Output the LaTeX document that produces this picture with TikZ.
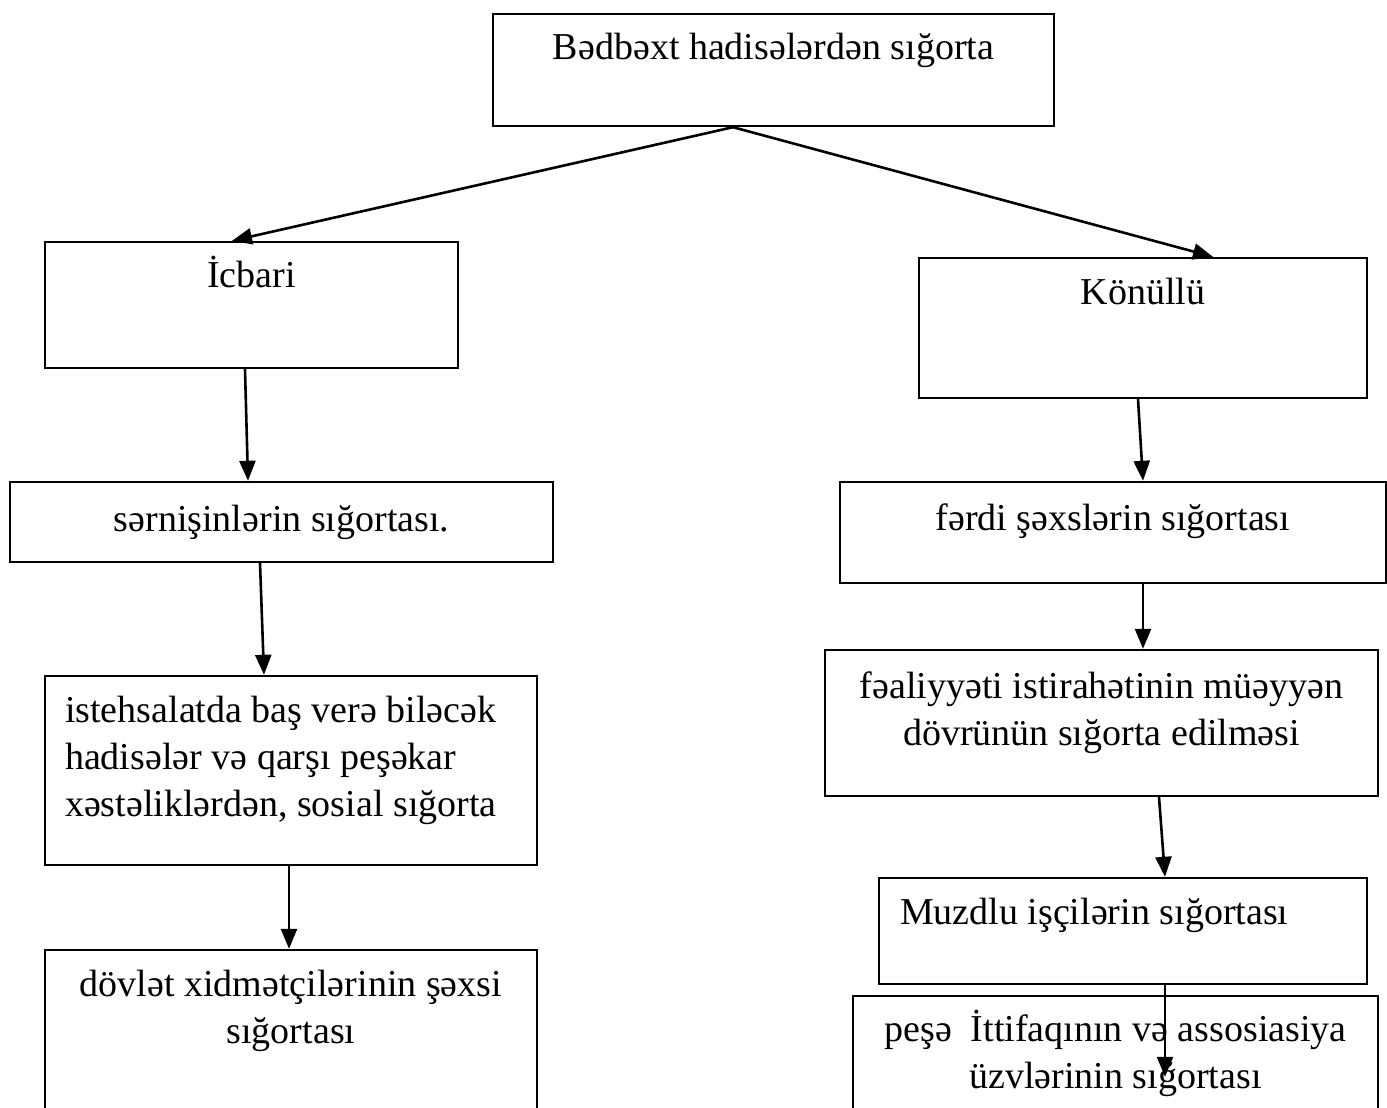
\documentclass[tikz,border=0pt]{standalone}
\usepackage{fontspec}
\setmainfont{Liberation Serif}
\usetikzlibrary{arrows.meta,positioning}

\begin{document}
\begin{tikzpicture}[x=1pt,y=-1pt,
  box/.style={draw,line width=2.4pt,inner sep=0pt},
  txt/.style={inner sep=0pt,align=center,font=\fontsize{38}{47}\selectfont,
    execute at begin node=\strut},
  arr/.style={line width=2.6pt,-{Triangle[length=20pt,width=16pt]}}]
  \useasboundingbox (0,0) rectangle (1387,1108);
  \clip (0,0) rectangle (1387,1108);
  % boxes
  \node[box,minimum width=561pt,minimum height=112pt] (top) at (773.5,70) {};
  \node[box,minimum width=413pt,minimum height=126pt] (icbari) at (251.5,305) {};
  \node[box,minimum width=448pt,minimum height=140pt] (konullu) at (1143,328) {};
  \node[box,minimum width=543pt,minimum height=80pt] (sernisin) at (281.5,522) {};
  \node[box,minimum width=546pt,minimum height=101pt] (ferdi) at (1113,532.5) {};
  \node[box,minimum width=492pt,minimum height=189pt] (istehsal) at (291,770.5) {};
  \node[box,minimum width=553pt,minimum height=146pt] (fealiyyet) at (1101.5,723) {};
  \node[box,minimum width=492pt,minimum height=180pt] (dovlet) at (291,1040) {};
  \node[box,minimum width=488pt,minimum height=106pt] (muzdlu) at (1123,931) {};
  \node[box,minimum width=525pt,minimum height=134pt] (pese) at (1115.5,1063) {};
  % texts
  \node[txt,below=14pt of top.north] (ttop) {Bədbəxt hadisələrdən sığorta};
  \node[txt,below=14pt of icbari.north] (ticbari) {İcbari};
  \node[txt,below=15pt of konullu.north] (tkonullu) {Könüllü};
  \node[txt,below=18pt of sernisin.north] (tsernisin) {sərnişinlərin sığortası.};
  \node[txt,below=17pt of ferdi.north] (tferdi) {fərdi şəxslərin sığortası};
  \node[txt,align=left,below right=21pt and 21pt of istehsal.north west] (tistehsal)
    {istehsalatda baş verə biləcək\\hadisələr və qarşı peşəkar\\xəstəliklərdən, sosial sığorta};
  \node[txt,below=23pt of fealiyyet.north] (tfealiyyet)
    {fəaliyyəti istirahətinin müəyyən\\dövrünün sığorta edilməsi};
  \node[txt,below=21pt of dovlet.north] (tdovlet) {dövlət xidmətçilərinin şəxsi\\sığortası};
  \node[txt,align=left,below right=15pt and 22pt of muzdlu.north west] (tmuzdlu)
    {Muzdlu işçilərin sığortası};
  \node[txt,below=15pt of pese.north] (tpese) {peşə\ \ İttifaqının və assosiasiya\\üzvlərinin sığortası};
  % arrows
  \draw[arr] ([xshift=-40.5pt]top.south) -- ([xshift=-19.5pt]icbari.north);
  \draw[arr] ([xshift=-40.5pt]top.south) -- ([xshift=70pt]konullu.north);
  \draw[arr] ([xshift=-6.5pt]icbari.south) -- ([xshift=-33.5pt]sernisin.north);
  \draw[arr] ([xshift=-5pt]konullu.south) -- ([xshift=30pt]ferdi.north);
  \draw[arr] ([xshift=-21.5pt]sernisin.south) -- ([xshift=-27pt]istehsal.north);
  \draw[arr] ([xshift=30pt]ferdi.south) -- ([xshift=41.5pt]fealiyyet.north);
  \draw[arr] ([xshift=-2pt]istehsal.south) -- ([xshift=-2pt]dovlet.north);
  \draw[arr] ([xshift=57.5pt]fealiyyet.south) -- ([xshift=42pt]muzdlu.north);
  \draw[arr] ([xshift=42pt]muzdlu.south) -- ([xshift=49.5pt,yshift=-82pt]pese.north);
\end{tikzpicture}
\end{document}
